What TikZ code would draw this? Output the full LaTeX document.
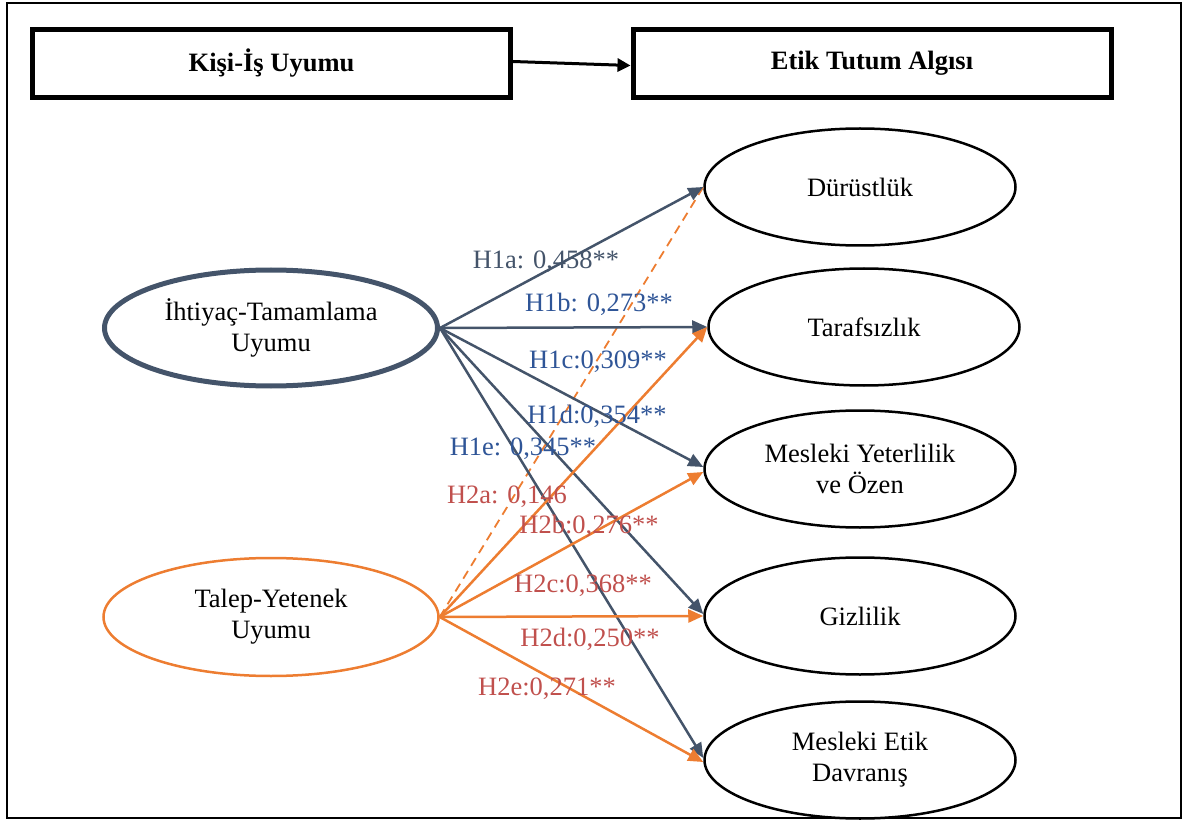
\documentclass[tikz,border=0pt]{standalone}
\usepackage{fontspec}
\setmainfont{Liberation Serif}
\usetikzlibrary{shapes.geometric,arrows.meta}
\definecolor{slate}{HTML}{44546A}
\definecolor{orng}{HTML}{ED7D31}
\definecolor{lblue}{HTML}{2F5597}
\definecolor{lred}{HTML}{C0504D}
\tikzset{
  txt/.style={font=\fontsize{26.5}{31}\selectfont},
  topbox/.style={draw=black, line width=5pt, minimum width=478pt, minimum height=68pt, inner sep=0pt, txt, font=\fontsize{26.5}{31}\selectfont\bfseries},
  rell/.style={ellipse, draw=black, line width=2.5pt, minimum width=311pt, minimum height=117pt, inner sep=0pt, align=center, txt},
  slarrow/.style={draw=slate, line width=2.5pt, -{Triangle[length=15pt,width=13pt]}},
  orarrow/.style={draw=orng, line width=2.5pt, -{Triangle[length=15pt,width=13pt]}},
  ordash/.style={draw=orng, line width=1.8pt, dash pattern=on 9pt off 6pt},
  lab/.style={txt, inner sep=0pt}
}
\begin{document}
\begin{tikzpicture}[x=1pt,y=-1pt]
\useasboundingbox (0,0) rectangle (1187,821);
\draw[line width=2pt] (7,3) rectangle (1181,818);

\node[topbox] (kisi) at (271.5,63.5) {Kişi-İş Uyumu};
\node[topbox] (etik) at (872,63.5) {Etik Tutum Algısı};
\draw[line width=3pt, -{Triangle[length=13pt,width=13pt]}] ([yshift=2pt]kisi.east) -- ([yshift=-2pt]etik.west);

\node[ellipse, draw=slate, line width=5pt, minimum width=333pt, minimum height=116pt, inner sep=0pt, align=center, txt] (iht) at (271,328) {İhtiyaç-Tamamlama\\Uyumu};
\node[ellipse, draw=orng, line width=2.5pt, minimum width=335pt, minimum height=118pt, inner sep=0pt, align=center, txt] (tal) at (271,617) {Talep-Yetenek\\Uyumu};

\node[rell] (dur) at (860,187) {Dürüstlük};
\node[rell] (tar) at (864,327) {Tarafsızlık};
\node[rell] (mes) at (860,469) {Mesleki Yeterlilik\\ve Özen};
\node[rell] (giz) at (860,616) {Gizlilik};
\node[rell] (met) at (860,760) {Mesleki Etik\\Davranış};

\draw[ordash] (tal.east) -- (dur.west);
\draw[slarrow] (iht.east) -- (dur.west);
\draw[slarrow] (iht.east) -- (tar.west);
\draw[slarrow] (iht.east) -- ([yshift=2pt]mes.west);
\draw[slarrow] (iht.east) -- ([yshift=2pt]giz.west);
\draw[slarrow] (iht.east) -- ([yshift=2pt]met.west);
\draw[orarrow] (tal.east) -- (tar.west);
\draw[orarrow] (tal.east) -- ([yshift=-3pt]mes.west);
\draw[orarrow] (tal.east) -- (giz.west);
\draw[orarrow] (tal.east) -- ([yshift=-2pt]met.west);

\node[lab, text=slate] (l1a) at (546,262) {H1a: 0,458**};
\node[lab, text=lblue] (l1b) at (599,304) {H1b: 0,273**};
\node[lab, text=lblue] (l1c) at (598,362) {H1c:0,309**};
\node[lab, text=lblue] (l1d) at (597,416) {H1d:0,354**};
\node[lab, text=lblue] (l1e) at (523,449) {H1e: 0,345**};
\node[lab, text=lred] (l2a) at (507,497) {H2a: 0,146};
\node[lab, text=lred] (l2b) at (589,526) {H2b:0,276**};
\node[lab, text=lred] (l2c) at (583,586) {H2c:0,368**};
\node[lab, text=lred] (l2d) at (590,639) {H2d:0,250**};
\node[lab, text=lred] (l2e) at (547,689) {H2e:0,271**};
\end{tikzpicture}
\end{document}
